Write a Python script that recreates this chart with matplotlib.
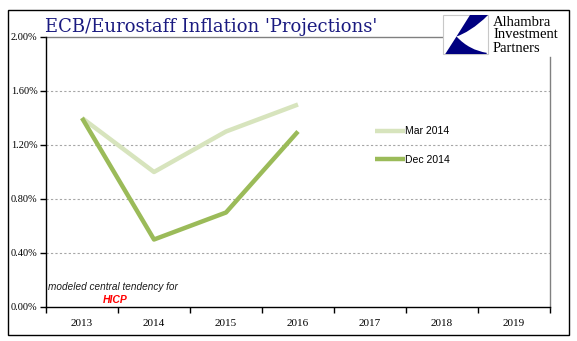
import numpy as np
import matplotlib.pyplot as plt
from matplotlib.patches import Rectangle, PathPatch
from matplotlib.path import Path

years = ['2013', '2014', '2015', '2016', '2017', '2018', '2019']
mar_2014 = [1.4, 1.0, 1.3, 1.5]
dec_2014 = [1.4, 0.5, 0.7, 1.3]
y_ticks = [0.0, 0.4, 0.8, 1.2, 1.6, 2.0]

W, H = 577, 341
fig = plt.figure(figsize=(W / 100, H / 100), dpi=100)
ax = fig.add_axes([46 / W, 1 - 307 / H, 504 / W, 270 / H])

x = np.arange(len(years))
ax.plot(x[:len(mar_2014)], mar_2014, color='#d7e4bd', lw=3.2, label='Mar 2014',
        solid_capstyle='butt', zorder=3)
ax.plot(x[:len(dec_2014)], dec_2014, color='#9bbb59', lw=3.2, label='Dec 2014',
        solid_capstyle='butt', zorder=4)

ax.set_xlim(-0.5, len(years) - 0.5)
ax.set_ylim(0, 2.0)

# gridlines
for v in y_ticks[1:-1]:
    ax.axhline(v, color='#a6a6a6', lw=0.8, ls=(0, (2, 2)), zorder=1)
ax.axhline(2.0, xmin=0, xmax=(447 - 46) / 504, color='#808080', lw=1.0, clip_on=False)

ax.spines['top'].set_visible(False)
ax.spines['left'].set_color('black')
ax.spines['bottom'].set_color('black')
ax.spines['right'].set_color('#808080')
ax.spines['right'].set_bounds(0, 1.85)
for s in ['left', 'bottom', 'right']:
    ax.spines[s].set_linewidth(1.0)

ax.set_yticks(y_ticks)
ax.set_yticklabels(['%.2f%%' % v for v in y_ticks], fontfamily='Liberation Serif', fontsize=7.5)
ax.tick_params(axis='y', direction='out', length=4, width=1, pad=2)

ax.set_xticks(x)
ax.set_xticklabels(years, fontfamily='Liberation Serif', fontsize=8)
ax.set_xticks(np.arange(-0.5, len(years)), minor=True)
ax.tick_params(axis='x', which='major', length=0, pad=9)
ax.tick_params(axis='x', which='minor', direction='out', length=4, width=1)

leg = ax.legend(loc='upper left', bbox_to_anchor=((366 - 46) / 504, 1 - (117 - 37) / 270),
                frameon=False, handlelength=2.8, handletextpad=0.0, labelspacing=1.8,
                prop={'family': 'Liberation Sans', 'size': 7.5})

# annotation
fig.text(48 / W, 1 - 287 / H, 'modeled central tendency for', fontfamily='Liberation Sans',
         style='italic', fontsize=7.2, color='#1a1a1a', va='center')
fig.text(103 / W, 1 - 300 / H, 'HICP', fontfamily='Liberation Sans', style='italic',
         fontweight='bold', fontsize=7.5, color='#ff0000', va='center')

# title
fig.text(45 / W, 1 - 27 / H, "ECB/Eurostaff Inflation 'Projections'", fontfamily='DejaVu Serif',
         fontsize=13, color='#1a1a80', va='center')

# logo
bx, by, bw, bh = 443 / W, 1 - 54 / H, 45 / W, 39 / H
fig.add_artist(Rectangle((bx, by), bw, bh, transform=fig.transFigure, facecolor='white',
                         edgecolor='#c8c8c8', lw=0.8))
verts = [(0.6, 1.0), (1.0, 1.0),
         (0.75, 0.7), (0.45, 0.5), (0.3, 0.45),
         (0.5, 0.2), (0.72, 0.08), (0.97, 0.03),
         (0.97, 0.0), (0.05, 0.0), (0.3, 0.45), (0.6, 1.0)]
codes = [Path.MOVETO, Path.LINETO,
         Path.CURVE4, Path.CURVE4, Path.CURVE4,
         Path.CURVE4, Path.CURVE4, Path.CURVE4,
         Path.LINETO, Path.LINETO, Path.LINETO, Path.CLOSEPOLY]
verts = [(bx + vx * bw, by + vy * bh) for vx, vy in verts]
fig.add_artist(PathPatch(Path(verts, codes), transform=fig.transFigure,
                         facecolor='#000080', edgecolor='none'))
for i, t in enumerate(['Alhambra', 'Investment', 'Partners']):
    fig.text(493 / W, 1 - (22 + 13 * i) / H, t, fontfamily='Liberation Serif', fontsize=10.5,
             color='black', va='center')

# outer frame
fig.add_artist(Rectangle((8 / W, 1 - 335 / H), 561 / W, 325 / H, transform=fig.transFigure,
                         facecolor='none', edgecolor='black', lw=1.0))

fig.savefig('out.png', dpi=100)
